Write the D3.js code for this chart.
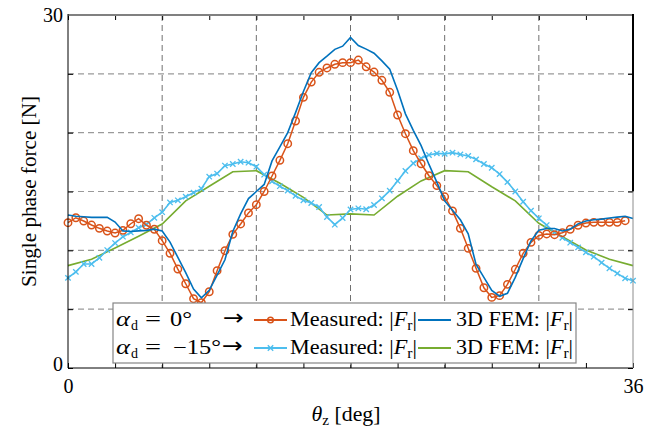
<!DOCTYPE html>
<html>
<head>
<meta charset="utf-8">
<script src="https://cdn.jsdelivr.net/npm/d3@7"></script>
<style>
  html, body { margin: 0; padding: 0; background: #fff; }
  svg { display: block; }
  text { font-family: "Liberation Serif", "Times New Roman", serif; fill: #000; }
</style>
</head>
<body>
<svg id="chart" width="660" height="428"></svg>
<script>
// Rotor angle samples [deg] for the measured series (0.5 deg step)
const thetaMeas = [
  0, 0.5, 1, 1.5, 2, 2.5, 3, 3.5, 4, 4.5,
  5, 5.5, 6, 6.5, 7, 7.5, 8, 8.5, 9, 9.5,
  10, 10.5, 11, 11.5, 12, 12.5, 13, 13.5, 14, 14.5,
  15, 15.5, 16, 16.5, 17, 17.5, 18, 18.5, 19, 19.5,
  20, 20.5, 21, 21.5, 22, 22.5, 23, 23.5, 24, 24.5,
  25, 25.5, 26, 26.5, 27, 27.5, 28, 28.5, 29, 29.5,
  30, 30.5, 31, 31.5, 32, 32.5, 33, 33.5, 34, 34.5,
  35, 35.5
];
// Angle samples for the full-period curves (0 .. 36 deg)
const thetaFull = thetaMeas.concat([36]);
// Coarse angle samples of the -15 deg FEM run (1.5 deg step)
const thetaFemCoarse = [
  0, 1.5, 3, 4.5, 6, 7.5, 9, 10.5, 12, 13.5, 15, 16.5, 18,
  19.5, 21, 22.5, 24, 25.5, 27, 28.5, 30, 31.5, 33, 34.5, 36
];

// alpha_d = 0 deg, measured |F_r| [N]
const measured0 = [
  12.35, 12.77, 12.49, 12.15, 11.87, 11.64, 11.47, 11.70, 12.26, 12.69,
  12.13, 11.79, 10.82, 9.75, 8.41, 7.16, 5.89, 5.55, 6.48, 8.27,
  9.97, 11.36, 12.24, 13.18, 13.88, 15.00, 16.32, 17.65, 19.06, 20.99,
  23.00, 24.30, 25.13, 25.50, 25.81, 25.95, 25.95, 26.17, 25.60, 25.15,
  24.45, 23.43, 21.50, 19.91, 18.47, 17.36, 16.34, 15.50, 14.55, 13.35,
  11.87, 10.17, 8.47, 6.82, 6.00, 6.15, 7.11, 8.39, 9.75, 10.68,
  11.27, 11.39, 11.33, 11.50, 11.79, 12.13, 12.32, 12.38, 12.38, 12.38,
  12.38, 12.52
];
// alpha_d = 0 deg, 3D FEM |F_r| [N]
const fem0 = [
  13.0, 12.9, 12.85, 12.8, 12.8, 12.8, 12.4, 11.65, 11.6, 11.65,
  11.7, 11.8, 11.65, 10.7, 9.4, 8.1, 6.7, 5.97, 6.6, 7.9,
  9.2, 11.6, 13.1, 14.4, 15.0, 15.6, 17.6, 18.8, 20.0, 21.7,
  23.5, 25.1, 25.95, 26.5, 27.08, 27.35, 28.1, 27.4, 27.1, 26.75,
  26.1, 25.4, 23.6, 21.6, 20.2, 18.9, 17.3, 15.8, 14.2, 13.4,
  12.6, 11.4, 8.8, 7.7, 6.6, 6.1, 6.35, 7.7, 9.3, 10.8,
  11.7, 11.85, 11.85, 11.65, 11.8, 12.25, 12.5, 12.6, 12.65, 12.75,
  12.82, 12.9, 12.7
];
// alpha_d = -15 deg, measured |F_r| [N]
const measured15 = [
  7.66, 8.17, 8.84, 8.84, 9.36, 10.02, 10.62, 11.16, 11.52, 11.92,
  12.2, 12.76, 13.24, 14.07, 14.25, 14.56, 14.9, 15.24, 16.26, 16.52,
  17.2, 17.34, 17.53, 17.45, 17.11, 16.43, 15.86, 15.45, 15.08, 14.63,
  14.25, 14.02, 13.68, 12.83, 12.18, 12.75, 13.47, 13.57, 13.49, 13.85,
  14.42, 15.07, 15.9, 16.75, 17.4, 17.82, 18.1, 18.24, 18.2, 18.3,
  18.15, 18.02, 17.73, 17.34, 17.02, 16.48, 15.8, 15.0, 14.13, 13.37,
  12.72, 12.15, 11.53, 11.07, 10.65, 10.25, 9.83, 9.46, 8.95, 8.47,
  8.04, 7.62, 7.42
];
// alpha_d = -15 deg, 3D FEM |F_r| [N]
const fem15 = [
  8.7, 9.24, 10.2, 11.2, 12.24, 14.2, 15.45, 16.68, 16.77, 15.7, 14.5, 13.0, 13.1,
  13.0, 14.6, 15.9, 16.77, 16.68, 15.4, 14.2, 12.3, 11.16, 10.03, 9.24, 8.7
];

// Axis ticks and labels
const xTicks = [0, 3, 6, 9, 12, 15, 18, 21, 24, 27, 30, 33, 36];
const xTickLabels = [0, 36];
const xGrid = [6, 12, 18, 24, 30];
const yTicks = [0, 5, 10, 15, 20, 25, 30];
const yTickLabels = [0, 30];
const yGrid = [5, 10, 15, 20, 25];

const colors = {
  meas0: "#D95319",
  fem0: "#0072BD",
  meas15: "#4DBEEE",
  fem15: "#77AC30"
};

const svg = d3.select("#chart");
const FONT = "'Liberation Serif', 'Times New Roman', serif";

const x = d3.scaleLinear().domain([0, 36]).range([68, 633]);
const y = d3.scaleLinear().domain([0, 30]).range([368, 15]);

// ---- grid ----
const grid = svg.append("g");
grid.selectAll("line.gv").data(xGrid).join("line")
  .attr("class", "gv")
  .attr("x1", d => x(d)).attr("x2", d => x(d))
  .attr("y1", y(30)).attr("y2", y(0))
  .attr("stroke", "#707070").attr("stroke-width", 1)
  .attr("stroke-dasharray", "6,4");
grid.selectAll("line.gh").data(yGrid).join("line")
  .attr("class", "gh")
  .attr("x1", x(0)).attr("x2", x(36))
  .attr("y1", d => y(d)).attr("y2", d => y(d))
  .attr("stroke", "#9a9a9a").attr("stroke-width", 1.2)
  .attr("stroke-dasharray", "6,4");

// ---- series ----
const zip = (xs, ys) => xs.map((v, i) => [v, ys[i]]);
const line = d3.line().x(d => x(d[0])).y(d => y(d[1]));

const s15fem = zip(thetaFemCoarse, fem15);
const s15meas = zip(thetaFull, measured15);
const s0meas = zip(thetaMeas, measured0);
const s0fem = zip(thetaFull, fem0);

const plot = svg.append("g");

plot.append("path").datum(s15fem).attr("d", line)
  .attr("fill", "none").attr("stroke", colors.fem15).attr("stroke-width", 1.6);

plot.append("path").datum(s15meas).attr("d", line)
  .attr("fill", "none").attr("stroke", colors.meas15).attr("stroke-width", 1.6);
const crossPath = "M-2.7,-2.7L2.7,2.7M-2.7,2.7L2.7,-2.7";
plot.selectAll("path.xm").data(s15meas).join("path")
  .attr("class", "xm")
  .attr("transform", d => `translate(${x(d[0])},${y(d[1])})`)
  .attr("d", crossPath)
  .attr("fill", "none").attr("stroke", colors.meas15).attr("stroke-width", 1.3);

plot.append("path").datum(s0meas).attr("d", line)
  .attr("fill", "none").attr("stroke", colors.meas0).attr("stroke-width", 1.5);
plot.selectAll("circle.om").data(s0meas).join("circle")
  .attr("class", "om")
  .attr("cx", d => x(d[0])).attr("cy", d => y(d[1])).attr("r", 3.7)
  .attr("fill", "none").attr("stroke", colors.meas0).attr("stroke-width", 1.5);

plot.append("path").datum(s0fem).attr("d", line)
  .attr("fill", "none").attr("stroke", colors.fem0).attr("stroke-width", 1.6);

// ---- axes ----
const fmtX = d => (xTickLabels.includes(d) ? d : "");
const fmtY = d => (yTickLabels.includes(d) ? d : "");

const gBottom = svg.append("g").attr("transform", `translate(0,${y(0)})`)
  .call(d3.axisBottom(x).tickValues(xTicks).tickSizeInner(-5).tickSizeOuter(0)
    .tickPadding(11).tickFormat(fmtX));
const gTop = svg.append("g").attr("transform", `translate(0,${y(30)})`)
  .call(d3.axisTop(x).tickValues(xTicks).tickSizeInner(-5).tickSizeOuter(0)
    .tickFormat(""));
const gLeft = svg.append("g").attr("transform", `translate(${x(0)},0)`)
  .call(d3.axisLeft(y).tickValues(yTicks).tickSizeInner(-5).tickSizeOuter(0)
    .tickPadding(5).tickFormat(fmtY));
const gRight = svg.append("g").attr("transform", `translate(${x(36)},0)`)
  .call(d3.axisRight(y).tickValues(yTicks).tickSizeInner(-5).tickSizeOuter(0)
    .tickFormat(""));

[gBottom, gTop, gLeft, gRight].forEach(g => {
  g.select(".domain").remove();
  g.attr("font-family", FONT).attr("font-size", 20);
  g.selectAll(".tick line").attr("stroke", "#000").attr("stroke-width", 1);
  g.selectAll(".tick text").attr("fill", "#000").style("font-family", FONT);
});
// the lowest y label sits just above the x axis line
gLeft.selectAll(".tick text").filter(d => d === 0).attr("dy", "0.1em");

// frame
const frame = svg.append("g").attr("fill", "none");
frame.append("line").attr("x1", x(0)).attr("x2", x(36)).attr("y1", y(30)).attr("y2", y(30))
  .attr("stroke", "#808080").attr("stroke-width", 2);
frame.append("line").attr("x1", x(0)).attr("x2", x(0)).attr("y1", y(30) - 1).attr("y2", y(0))
  .attr("stroke", "#000").attr("stroke-width", 1);
frame.append("line").attr("x1", x(0)).attr("x2", x(36)).attr("y1", y(0)).attr("y2", y(0))
  .attr("stroke", "#000").attr("stroke-width", 1);
frame.append("line").attr("x1", x(36)).attr("x2", x(36)).attr("y1", y(30) - 1).attr("y2", y(15))
  .attr("stroke", "#000").attr("stroke-width", 2);
frame.append("line").attr("x1", x(36)).attr("x2", x(36)).attr("y1", y(15)).attr("y2", y(0))
  .attr("stroke", "#8c8c8c").attr("stroke-width", 1);

// ---- axis titles ----
const xTitle = svg.append("text")
  .attr("x", 346).attr("y", 421)
  .attr("text-anchor", "middle").attr("font-size", 20)
  .attr("textLength", 69).attr("lengthAdjust", "spacingAndGlyphs");
xTitle.append("tspan").attr("font-style", "italic").text("θ");
xTitle.append("tspan").attr("font-size", 14).attr("dy", 4).text("z");
xTitle.append("tspan").attr("dy", -4).text(" [deg]");

svg.append("text")
  .attr("transform", `translate(36,${(y(0) + y(30)) / 2}) rotate(-90)`)
  .attr("text-anchor", "middle").attr("font-size", 20)
  .attr("textLength", 191).attr("lengthAdjust", "spacingAndGlyphs")
  .text("Single phase force [N]");

// ---- legend ----
const lg = svg.append("g");
lg.append("rect").attr("x", 113).attr("y", 303).attr("width", 463).attr("height", 60)
  .attr("fill", "#fff").attr("stroke", "#858585").attr("stroke-width", 1.2);

function plainText(px, py, str, opts = {}) {
  const t = lg.append("text").attr("x", px).attr("y", py).attr("font-size", opts.size || 20);
  if (opts.italic) t.attr("font-style", "italic");
  if (opts.family) t.style("font-family", opts.family);
  if (opts.len) t.attr("textLength", opts.len).attr("lengthAdjust", "spacingAndGlyphs");
  t.text(str);
  return t;
}
function absF(px, py, prefix, len) {
  const t = lg.append("text").attr("x", px).attr("y", py).attr("font-size", 20)
    .attr("textLength", len).attr("lengthAdjust", "spacingAndGlyphs");
  t.append("tspan").text(prefix + "|");
  t.append("tspan").attr("font-style", "italic").text("F");
  t.append("tspan").attr("font-size", 14).attr("dy", 4).text("r");
  t.append("tspan").attr("dy", -4).text("|");
}

const rows = [
  { base: 326, mid: 320, angle: "0°", angleX: 170, angleLen: 22, arrowX: 223,
    measColor: colors.meas0, femColor: colors.fem0, marker: "circle" },
  { base: 354, mid: 348, angle: "−15°", angleX: 173, angleLen: 48, arrowX: 222,
    measColor: colors.meas15, femColor: colors.fem15, marker: "cross" }
];
rows.forEach(r => {
  plainText(116, r.base, "α", { italic: true, size: 22, len: 14 });
  plainText(131, r.base + 4, "d", { size: 14 });
  plainText(145, r.base, "=", { len: 16 });
  plainText(r.angleX, r.base, r.angle, { len: r.angleLen });
  plainText(r.arrowX, r.base - 1, "→", { size: 22, len: 21, family: "'DejaVu Sans', sans-serif" });

  lg.append("line").attr("x1", 254).attr("x2", 287).attr("y1", r.mid).attr("y2", r.mid)
    .attr("stroke", r.measColor).attr("stroke-width", 2);
  if (r.marker === "circle") {
    lg.append("circle").attr("cx", 270.5).attr("cy", r.mid).attr("r", 2.8)
      .attr("fill", "none").attr("stroke", r.measColor).attr("stroke-width", 1.5);
  } else {
    lg.append("path").attr("transform", `translate(270.5,${r.mid})`).attr("d", crossPath)
      .attr("fill", "none").attr("stroke", r.measColor).attr("stroke-width", 1.4);
  }
  absF(290, r.base, "Measured: ", 127);

  lg.append("line").attr("x1", 418).attr("x2", 451).attr("y1", r.mid).attr("y2", r.mid)
    .attr("stroke", r.femColor).attr("stroke-width", 2);
  absF(456, r.base, "3D FEM: ", 117);
});
</script>
</body>
</html>
